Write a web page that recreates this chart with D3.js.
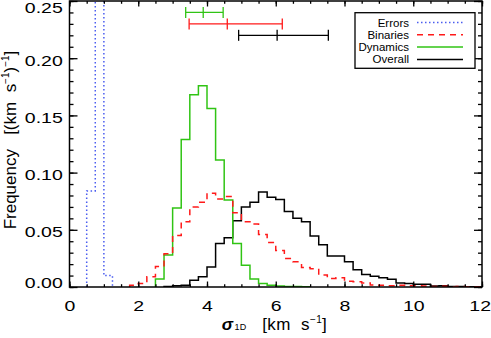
<!DOCTYPE html>
<html>
<head>
<meta charset="utf-8">
<script src="https://cdn.jsdelivr.net/npm/d3@7"></script>
<style>
  body { margin: 0; background: #fff; }
  text { font-family: "Liberation Sans", Arial, sans-serif; fill: #000; }
</style>
</head>
<body>
<svg width="491" height="338"></svg>
<script>
const binWidth = 0.25

const errorsStart = 0.5
const errorsValues = [0.084, 0.906, 0.010]

const dynamicsStart = 2.5
const dynamicsValues = [0.007, 0.028, 0.069, 0.129, 0.168, 0.176, 0.156, 0.111, 0.076, 0.038,
  0.019, 0.007, 0.003, 0.0015, 0.0008, 0.0005, 0.0004, 0.0003]

const binariesStart = 1.75
const binariesValues = [0.0015, 0.003, 0.009, 0.018, 0.029, 0.045, 0.057, 0.070, 0.074, 0.082,
  0.077, 0.079, 0.065, 0.057, 0.055, 0.046, 0.039, 0.032, 0.025, 0.022,
  0.017, 0.016, 0.0105, 0.0075, 0.008, 0.005, 0.0045, 0.0035, 0.0018, 0.0015,
  0.0012, 0.0015, 0.001, 0.001, 0.0008, 0.0005, 0.0006, 0.0003, 0.0004, 0.0002, 0.0003]

const overallStart = 2.75
const overallValues = [0.0005, 0.001, 0.0015, 0.006, 0.009, 0.0175, 0.038, 0.043, 0.058, 0.070,
  0.074, 0.083, 0.0785, 0.0765, 0.066, 0.060, 0.057, 0.0445, 0.037, 0.027,
  0.027, 0.022, 0.015, 0.011, 0.0093, 0.008, 0.0067, 0.0035, 0.003, 0.0025,
  0.0024, 0.0008, 0.001, 0.0005, 0.0004, 0.0003, 0.0003]

// error bars drawn along the top (low, median, high)
const barSeries = ['Dynamics', 'Binaries', 'Overall']
const barLow = [3.38, 3.48, 4.92]
const barMid = [3.89, 4.59, 6.04]
const barHigh = [4.47, 6.19, 7.53]
const barLevel = [0.24, 0.23, 0.22]

const xTicks = [0, 2, 4, 6, 8, 10, 12]
const yTicks = [0, 0.05, 0.10, 0.15, 0.20, 0.25]

const legendNames = ['Errors', 'Binaries', 'Dynamics', 'Overall']

const colors = { Errors: '#4a5cf0', Binaries: '#ff1a1a', Dynamics: '#30c414', Overall: '#000' }
const dashes = { Errors: '1.5,2.5', Binaries: '6,5', Dynamics: null, Overall: null }

const svg = d3.select('svg')
const pLeft = 69.5, pRight = 482, pTop = 1, pBottom = 287

const x = d3.scaleLinear().domain([0, 12]).range([pLeft, pRight])
const y = d3.scaleLinear().domain([0, 0.25]).range([pBottom, pTop])

svg.append('clipPath').attr('id', 'plot')
  .append('rect')
  .attr('x', pLeft).attr('y', pTop)
  .attr('width', pRight - pLeft).attr('height', pBottom - pTop)

function stepPoints(start, values) {
  const pts = [[start, 0]]
  values.forEach((v, i) => {
    pts.push([start + i * binWidth, v])
    pts.push([start + (i + 1) * binWidth, v])
  })
  pts.push([start + values.length * binWidth, 0])
  return pts
}

const line = d3.line().x(d => x(d[0])).y(d => y(d[1]))

const hists = [
  ['Errors', errorsStart, errorsValues],
  ['Binaries', binariesStart, binariesValues],
  ['Dynamics', dynamicsStart, dynamicsValues],
  ['Overall', overallStart, overallValues]
]

const plot = svg.append('g').attr('clip-path', 'url(#plot)')
// draw overall first so the coloured lines sit on top where they overlap
;[hists[3], hists[2], hists[1], hists[0]].forEach(([name, start, vals]) => {
  plot.append('path')
    .attr('d', line(stepPoints(start, vals)))
    .attr('fill', 'none')
    .attr('stroke', colors[name])
    .attr('stroke-width', 1.5)
    .attr('stroke-dasharray', dashes[name])
})

// error bars
barSeries.forEach((name, i) => {
  const g = svg.append('g')
    .attr('stroke', colors[name])
    .attr('stroke-width', 1.3)
  const yy = y(barLevel[i])
  g.append('line').attr('x1', x(barLow[i])).attr('x2', x(barHigh[i])).attr('y1', yy).attr('y2', yy)
  ;[barLow[i], barMid[i], barHigh[i]].forEach(v => {
    g.append('line').attr('x1', x(v)).attr('x2', x(v)).attr('y1', yy - 5.5).attr('y2', yy + 5.5)
  })
})

// axes, ticks point inward on all four sides
const xMinor = d3.range(0, 12.01, 0.5)
const yMinor = d3.range(0, 0.2501, 0.01)

function addAxis(axis, transform) {
  const g = svg.append('g').attr('transform', transform).call(axis)
  g.select('.domain').remove()
  g.selectAll('line').attr('stroke', '#000').attr('stroke-width', 1.3)
  return g
}

const xb = addAxis(d3.axisBottom(x).tickValues(xTicks).tickSize(-5.5).tickFormat(d3.format('d')), `translate(0,${pBottom})`)
xb.selectAll('text').attr('y', 24.5).attr('dy', null).attr('font-size', 15)
  .attr('x', d => d === 12 ? -1.8 : 0)
  .attr('transform', 'scale(1.3,1)')
addAxis(d3.axisBottom(x).tickValues(xMinor).tickSize(-2.8).tickFormat(''), `translate(0,${pBottom})`)
addAxis(d3.axisTop(x).tickValues(xTicks).tickSize(-5.5).tickFormat(''), `translate(0,${pTop})`)
addAxis(d3.axisTop(x).tickValues(xMinor).tickSize(-2.8).tickFormat(''), `translate(0,${pTop})`)

// end labels are pulled inside the picture, the way the original has them
const yl = addAxis(d3.axisLeft(y).tickValues(yTicks).tickSize(-8).tickFormat(d3.format('.2f')), `translate(${pLeft},0)`)
yl.selectAll('text').attr('x', -5.2).attr('font-size', 15).attr('dy', null)
  .attr('y', d => d === 0 ? 0.8 : d === 0.25 ? 11 : 6.8)
  .attr('transform', 'scale(1.3,1)')
addAxis(d3.axisLeft(y).tickValues(yMinor).tickSize(-4).tickFormat(''), `translate(${pLeft},0)`)
addAxis(d3.axisRight(y).tickValues(yTicks).tickSize(-8).tickFormat(''), `translate(${pRight},0)`)
addAxis(d3.axisRight(y).tickValues(yMinor).tickSize(-4).tickFormat(''), `translate(${pRight},0)`)

svg.append('rect')
  .attr('x', pLeft).attr('y', pTop)
  .attr('width', pRight - pLeft).attr('height', pBottom - pTop)
  .attr('fill', 'none').attr('stroke', '#000').attr('stroke-width', 1.5)

// axis titles
const xt = svg.append('text')
  .attr('x', 274.5).attr('y', 330)
  .attr('text-anchor', 'middle')
  .attr('font-size', 17)
  .attr('letter-spacing', 0.4)
xt.append('tspan').text('σ').attr('font-weight', 'bold').attr('font-style', 'italic')
xt.append('tspan').text('1D').attr('font-size', 9).attr('dx', 1)
xt.append('tspan').text('\u00a0\u00a0\u00a0[km\u00a0\u00a0s')
xt.append('tspan').text('−1').attr('font-size', 10).attr('dy', -7)
xt.append('tspan').text(']').attr('dy', 7)

const yt = svg.append('text')
  .attr('transform', 'translate(16,140) rotate(-90)')
  .attr('text-anchor', 'middle')
  .attr('font-size', 17)
yt.append('tspan').text('Frequency\u00a0\u00a0\u00a0[(km\u00a0\u00a0s')
yt.append('tspan').text('−1').attr('font-size', 10).attr('dy', -7)
yt.append('tspan').text(')').attr('dy', 7)
yt.append('tspan').text('−1').attr('font-size', 10).attr('dy', -7)
yt.append('tspan').text(']').attr('dy', 7)

// legend
const lg = svg.append('g')
lg.append('rect')
  .attr('x', 355).attr('y', 12.7).attr('width', 120).attr('height', 55.6)
  .attr('fill', '#fff').attr('stroke', '#000').attr('stroke-width', 1.3)
legendNames.forEach((name, i) => {
  const ly = 22.5 + i * 12.3
  lg.append('text')
    .attr('x', 409).attr('y', ly).attr('dy', '0.35em')
    .attr('text-anchor', 'end').attr('font-size', 11.5)
    .text(name)
  lg.append('line')
    .attr('x1', 417).attr('x2', 463).attr('y1', ly).attr('y2', ly)
    .attr('stroke', colors[name]).attr('stroke-width', 1.5)
    .attr('stroke-dasharray', dashes[name])
})
</script>
</body>
</html>
